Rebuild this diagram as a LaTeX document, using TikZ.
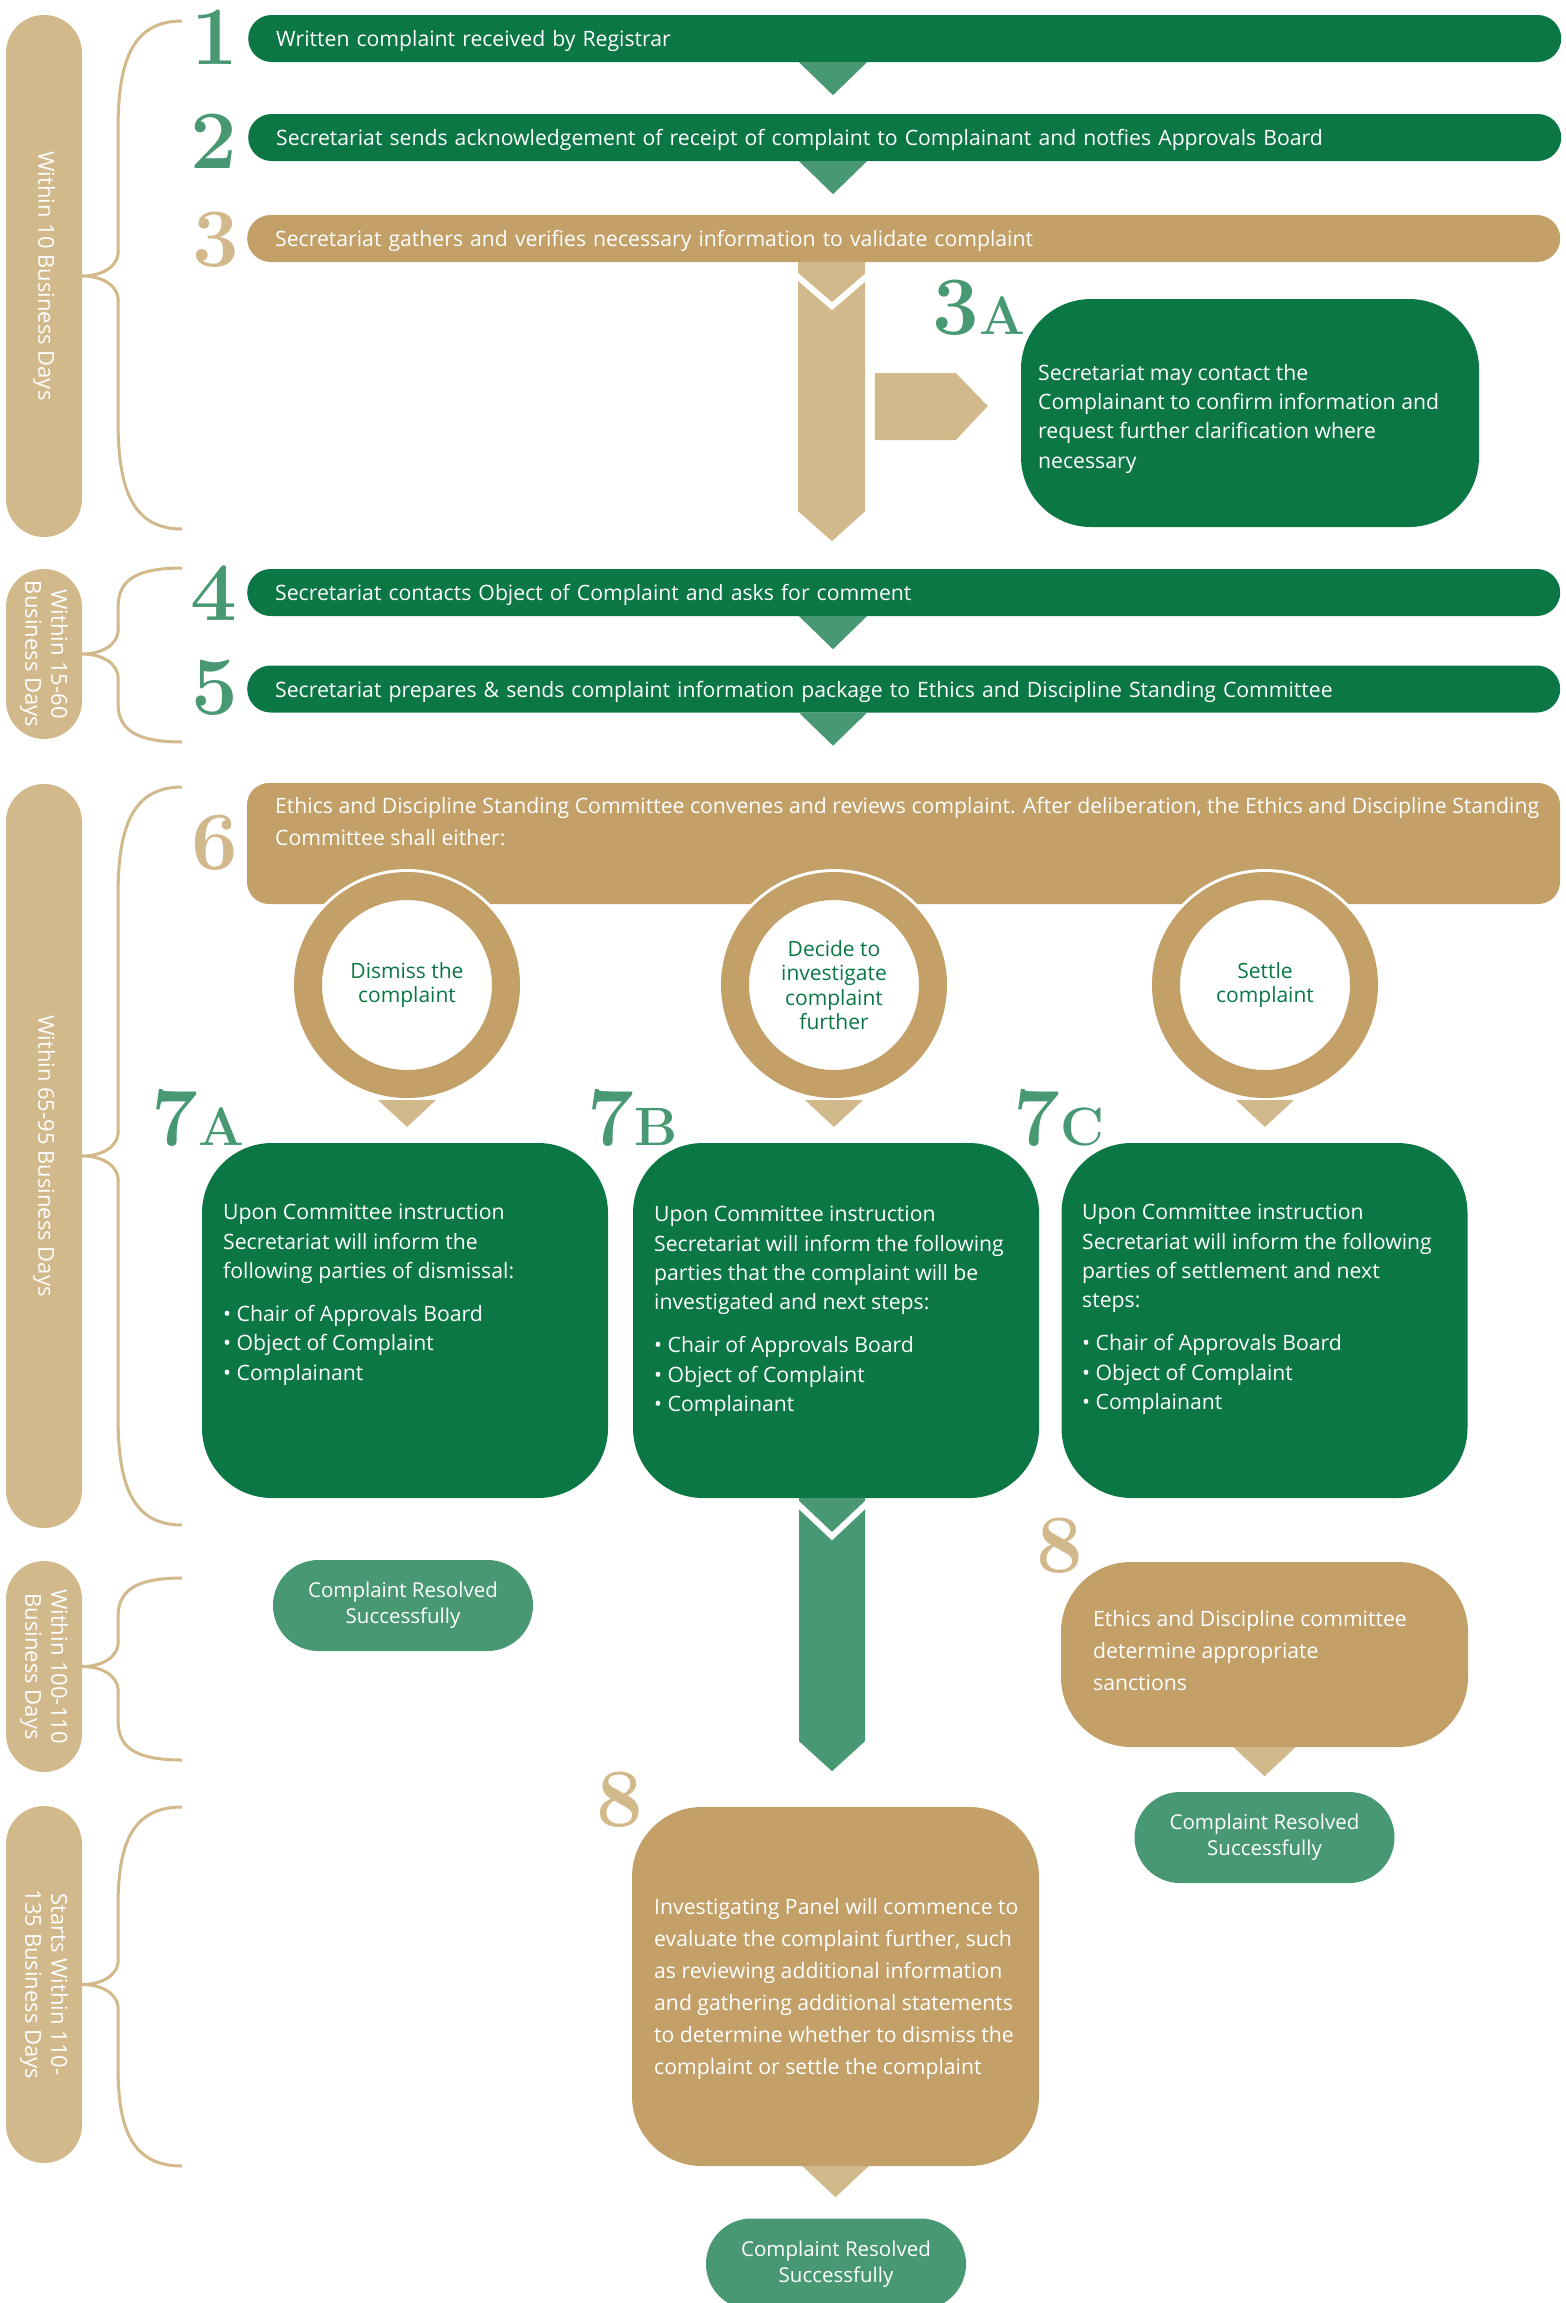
\documentclass[tikz,border=0pt]{standalone}
\usepackage{fontspec}
\setsansfont{Open Sans}
\usepackage{xcolor}
\usepackage{tikz}
\usetikzlibrary{calc}
\definecolor{deepgreen}{RGB}{10,119,68}
\definecolor{softgreen}{RGB}{71,152,115}
\definecolor{goldtan}{RGB}{194,160,104}
\definecolor{paletan}{RGB}{210,185,140}
\newcommand{\txtfont}{\sffamily\fontsize{21.2}{29.3}\selectfont}
\newcommand{\widefont}{\sffamily\fontsize{21.2}{32}\selectfont}
\newcommand{\numfont}{\rmfamily\bfseries\fontsize{83}{83}\selectfont}
\newcommand{\subfont}{\rmfamily\bfseries\fontsize{54}{54}\selectfont}
\tikzset{
  % time span pills (text runs downwards)
  timepill/.style={
    rotate=-90,
    fill=paletan,
    rounded corners=38pt,
    minimum height=76pt,
    inner sep=0pt,
    align=center,
    text=white,
    font=\sffamily\fontsize{22}{26}\selectfont
  },
  % curly brace next to a pill
  timebrace/.style={draw=paletan, line width=3pt},
  % one-line step bars
  stepbar/.style={
    fill=deepgreen,
    rounded corners=23.5pt,
    minimum height=47pt,
    inner xsep=28pt,
    inner ysep=0pt,
    text width=1257pt,
    text height=17.5pt,
    text depth=1.5pt,
    align=left,
    text=white,
    font=\txtfont
  },
  % large rounded boxes
  bigbox/.style={fill=deepgreen, rounded corners=70pt, inner sep=0pt},
  % text set inside a box
  boxtxt/.style={anchor=north west, inner sep=0pt, align=left, text=white, font=\txtfont},
  % decision rings
  ring/.style={
    circle,
    draw=goldtan,
    line width=28pt,
    fill=white,
    minimum size=198pt,
    inner sep=0pt,
    preaction={draw=white, line width=34pt},
    align=center,
    text=deepgreen,
    font=\sffamily\fontsize{21}{24.5}\selectfont
  },
  % end pills
  donepill/.style={
    fill=softgreen,
    rounded corners=45.5pt,
    minimum width=260pt,
    minimum height=91pt,
    inner sep=0pt,
    align=center,
    text=white,
    font=\sffamily\fontsize{20.5}{26}\selectfont
  },
  % step numbers
  stepnum/.style={anchor=base, inner sep=0pt, font=\numfont},
}

\begin{document}
\begin{tikzpicture}[x=1pt, y=-1pt]
  \useasboundingbox (0,0) rectangle (1566,2303);
  \coordinate (axis) at (833,0);

  % Time spans
  \node[timepill, minimum width=522pt] (p1) at (44,276) {Within 10 Business Days};
  \node[timepill, minimum width=170pt] (p2) at (44,654) {Within 15-60\\Business Days};
  \node[timepill, minimum width=744pt] (p3) at (44,1156) {Within 65-95 Business Days};
  \node[timepill, minimum width=211pt] (p4) at (44,1666.5) {Within 100-110\\Business Days};
  \node[timepill, minimum width=357pt] (p5) at (44,1984.5) {Starts Within 110-\\135 Business Days};

  % Braces (tip on the pill's right side)
  \foreach \p/\ya/\yb/\cl in {p1/21/529/110, p2/568/742/40, p3/787/1525/110, p4/1578/1760/40, p5/1807/2166/100}
    \draw[timebrace] (182,\ya) .. controls (130,\ya) and (118,{\ya+0.4*\cl}) .. (118,{\ya+\cl})
      -- ($(\p.north)+(36,-25)$) .. controls ($(\p.north)+(36,-8)$) and ($(\p.north)+(18,0)$) .. (\p.north)
      .. controls ($(\p.north)+(18,0)$) and ($(\p.north)+(36,8)$) .. ($(\p.north)+(36,25)$)
      -- (118,{\yb-\cl}) .. controls (118,{\yb-0.4*\cl}) and (130,\yb) .. (182,\yb);

  % Steps 1-5
  \node[stepnum, text=softgreen] (n1) at (215,64) {1};
  \node[stepnum, text=softgreen] (n2) at (214,168) {2};
  \node[stepnum, text=paletan] (n3) at (216,266) {3};
  \node[stepnum, text=softgreen] (n4) at (214,620) {4};
  \node[stepnum, text=softgreen] (n5) at (215,714) {5};
  \node[stepbar, anchor=west] (bar1) at (248,38.5) {Written complaint received by Registrar};
  \node[stepbar, anchor=west] (bar2) at (248,137.5) {Secretariat sends acknowledgement of receipt of complaint to Complainant and notfies Approvals Board};
  \node[stepbar, anchor=west, fill=goldtan] (bar3) at (247,238.5) {Secretariat gathers and verifies necessary information to validate complaint};
  \node[stepbar, anchor=west] (bar4) at (247,592.5) {Secretariat contacts Object of Complaint and asks for comment};
  \node[stepbar, anchor=west] (bar5) at (247,689) {Secretariat prepares \& sends complaint information package to Ethics and Discipline Standing Committee};

  % Tips under the green bars
  \foreach \b in {bar1,bar2,bar4,bar5}
    \fill[softgreen] ($(\b.south -| axis)+(-34,0)$) -- ++(68,0) -- ++(-34,33) -- cycle;

  % Long arrow out of step 3
  \fill[paletan] ($(bar3.south -| axis)+(-35,0)$) -- ++(67,0) -- ++(0,249) -- ++(-33,30) -- ++(-34,-30) -- cycle;
  \draw[white, line width=6pt] ($(bar3.south -| axis)+(-37,13)$) -- ++(36,31) -- ++(36,-31);

  % Step 3A
  \node[stepnum, text=softgreen] (n3a) at (979,334) {3{\subfont A}};
  \node[bigbox, minimum width=458pt, minimum height=228pt] (box3a) at (1250,413) {};
  \node[boxtxt] (t3a) at (1038,364) {Secretariat may contact the\\Complainant to confirm information and\\request further clarification where\\necessary};
  \fill[paletan] ($(box3a.west)+(-146,-40)$) -- ++(81,0) -- ++(32,33) -- ++(-32,34) -- ++(-81,0) -- cycle;

  % Step 6
  \node[stepnum, text=paletan] (n6) at (215,869) {6};
  \node[fill=goldtan, rounded corners=22pt, minimum width=1313pt, minimum height=121pt, inner sep=0pt] (bar6) at (903.5,843.5) {};
  \node[boxtxt, font=\widefont] (t6) at (275,797) {Ethics and Discipline Standing Committee convenes and reviews complaint. After deliberation, the Ethics and Discipline Standing\\Committee shall either:};

  % Decisions
  \foreach \c/\x/\t in {c1/407/{Dismiss the\\complaint}, c2/834/{Decide to\\investigate\\complaint\\further}, c3/1265/{Settle\\complaint}} {
    \node[ring] (\c) at (\x,985) {\t};
    \fill[paletan] ($(\c.south)+(-29,2)$) -- ++(58,0) -- ++(-29,27) -- cycle;
  }

  % Steps 7A-7C
  \foreach \b/\x in {box7a/405, box7b/836, box7c/1264.5}
    \node[bigbox, minimum width=406pt, minimum height=355pt] (\b) at (\x,1320.5) {};
  \node[stepnum, text=softgreen] (n7a) at (198,1145) {7{\subfont A}};
  \node[stepnum, text=softgreen] (n7b) at (632.5,1145) {7{\subfont B}};
  \node[stepnum, text=softgreen] (n7c) at (1059,1145) {7{\subfont C}};
  \node[boxtxt] (t7a) at (223,1204) {Upon Committee instruction\\Secretariat will inform the\\following parties of dismissal:\\[14pt]\textbullet\ Chair of Approvals Board\\\textbullet\ Object of Complaint\\\textbullet\ Complainant};
  \node[boxtxt] (t7b) at (654,1206) {Upon Committee instruction\\Secretariat will inform the following\\parties that the complaint will be\\investigated and next steps:\\[14pt]\textbullet\ Chair of Approvals Board\\\textbullet\ Object of Complaint\\\textbullet\ Complainant};
  \node[boxtxt] (t7c) at (1082,1204) {Upon Committee instruction\\Secretariat will inform the following\\parties of settlement and next\\steps:\\[14pt]\textbullet\ Chair of Approvals Board\\\textbullet\ Object of Complaint\\\textbullet\ Complainant};

  % Arrow out of 7B
  \fill[softgreen] ($(box7b.south -| axis)+(-34,0)$) -- ++(66,0) -- ++(0,243) -- ++(-33,30) -- ++(-33,-30) -- cycle;
  \draw[white, line width=6pt] ($(box7b.south -| axis)+(-36,5)$) -- ++(35,33) -- ++(35,-33);

  % Dismissed
  \node[donepill] (done1) at (403,1605.5) {Complaint Resolved\\Successfully};

  % Step 8 after settling
  \node[stepnum, text=paletan] (n8r) at (1059.5,1572) {8};
  \node[bigbox, fill=goldtan, minimum width=407pt, minimum height=185pt] (box8r) at (1264.5,1654.5) {};
  \node[boxtxt, font=\widefont] (t8r) at (1093,1610) {Ethics and Discipline committee\\determine appropriate\\sanctions};
  \fill[paletan] ($(box8r.south)+(-31,0)$) -- ++(62,0) -- ++(-31,29) -- cycle;
  \node[donepill] (done2) at (1264.5,1837.5) {Complaint Resolved\\Successfully};

  % Step 8 after investigating
  \node[stepnum, text=paletan] (n8m) at (619.5,1826) {8};
  \node[bigbox, fill=goldtan, minimum width=407pt, minimum height=359pt] (box8m) at (835.5,1986.5) {};
  \node[boxtxt, font=\widefont] (t8m) at (654,1898) {Investigating Panel will commence to\\evaluate the complaint further, such\\as reviewing additional information\\and gathering additional statements\\to determine whether to dismiss the\\complaint or settle the complaint};
  \fill[paletan] ($(box8m.south)+(-33,0)$) -- ++(66,0) -- ++(-33,31) -- cycle;
  \node[donepill] (done3) at (836,2264) {Complaint Resolved\\Successfully};
\end{tikzpicture}
\end{document}
